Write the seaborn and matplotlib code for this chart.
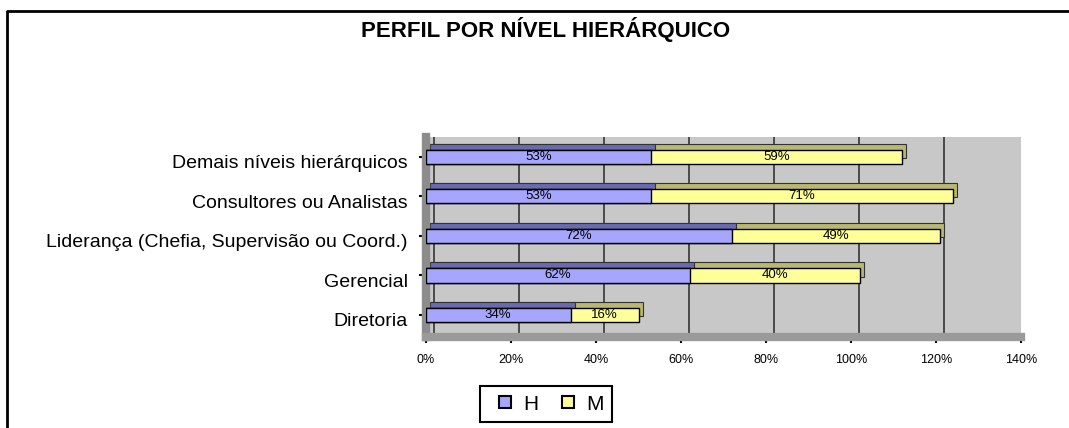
import pandas as pd
import matplotlib.pyplot as plt
import matplotlib.transforms as mtransforms
import seaborn as sns
from matplotlib.lines import Line2D
from matplotlib.ticker import PercentFormatter

# Data
categorias = ["Demais níveis hierárquicos", "Consultores ou Analistas",
              "Liderança (Chefia, Supervisão ou Coord.)", "Gerencial", "Diretoria"]
homens = [53, 53, 72, 62, 34]
mulheres = [59, 71, 49, 40, 16]

df = pd.DataFrame({"categoria": categorias, "H": homens, "M": mulheres})
df["total"] = df["H"] + df["M"]

sns.set_style("white")
plt.rcParams['font.family'] = ['Liberation Sans', 'DejaVu Sans']
plt.rcParams['text.color'] = 'black'
plt.rcParams['xtick.color'] = 'black'
plt.rcParams['ytick.color'] = 'black'

W, H = 1069, 428
fig = plt.figure(figsize=(W / 100, H / 100), dpi=100)
ax = fig.add_axes([426/W, 1 - 337/H, 595/W, 200/H])
ax.set_facecolor("#C8C8C8")

# 3D look: darker copy of the bars shifted up/right, drawn behind the front faces
depth = mtransforms.ScaledTranslation(4/100, 6/100, fig.dpi_scale_trans)
n0 = len(ax.patches)
sns.barplot(data=df, y="categoria", x="total", color="#B8B870", width=0.36,
            edgecolor="#333333", linewidth=0.8, saturation=1, ax=ax, zorder=2)
sns.barplot(data=df, y="categoria", x="H", color="#6A6AB0", width=0.36,
            edgecolor="#333333", linewidth=0.8, saturation=1, ax=ax, zorder=2)
for p in ax.patches[n0:]:
    p.set_transform(ax.transData + depth)

# front faces: total (M) first, then H on top
sns.barplot(data=df, y="categoria", x="total", color="#FFFF99", width=0.36,
            edgecolor="black", linewidth=1, saturation=1, ax=ax, zorder=3)
sns.barplot(data=df, y="categoria", x="H", color="#A6A6FF", width=0.36,
            edgecolor="black", linewidth=1, saturation=1, ax=ax, zorder=4)

# value labels
for i, row in df.iterrows():
    ax.text(row["H"] / 2, i, f"{row['H']}%", ha="center", va="center",
            fontsize=9.5, zorder=5)
    ax.text(row["H"] + row["M"] / 2, i, f"{row['M']}%", ha="center", va="center",
            fontsize=9.5, zorder=5)

ax.set_xlim(0, 140)
ax.set_ylim(4.557, -0.5)
ax.set_xticks(range(0, 141, 20))
ax.xaxis.set_major_formatter(PercentFormatter(decimals=0))
ax.grid(axis="x", color="#404040", linewidth=1.3, zorder=1)
ax.set_axisbelow(True)
back = mtransforms.ScaledTranslation(8/100, 0, fig.dpi_scale_trans)
for gl in ax.get_xgridlines():
    gl.set_transform(gl.get_transform() + back)
ax.tick_params(axis="x", labelsize=9, length=4, width=1.5, bottom=True, pad=8)
ax.tick_params(axis="y", labelsize=14, length=5, width=1.5, left=True, pad=8)
down = mtransforms.ScaledTranslation(0, -5/100, fig.dpi_scale_trans)
for lbl in ax.get_yticklabels():
    lbl.set_transform(lbl.get_transform() + down)
ax.set_xlabel("")
ax.set_ylabel("")
for s in ["top", "right"]:
    ax.spines[s].set_visible(False)
ax.spines["left"].set_color("#8C8C8C")
ax.spines["left"].set_linewidth(6)
ax.spines["bottom"].set_color("#9A9A9A")
ax.spines["bottom"].set_linewidth(6)

fig.text(546/W, 1 - 29/H, "PERFIL POR NÍVEL HIERÁRQUICO", ha="center", va="center",
         fontsize=16, fontweight="bold")

handles = [Line2D([], [], linestyle="", marker="s", markersize=9,
                  markerfacecolor="#A6A6FF", markeredgecolor="black",
                  markeredgewidth=1.5, label="H"),
           Line2D([], [], linestyle="", marker="s", markersize=9,
                  markerfacecolor="#FFFF99", markeredgecolor="black",
                  markeredgewidth=1.5, label="M")]
leg = fig.legend(handles=handles, loc="center", bbox_to_anchor=(546/W, 1 - 404/H),
                 ncol=2, fontsize=15, frameon=True, fancybox=False,
                 handlelength=1.6, handletextpad=0.1, columnspacing=0.6,
                 borderpad=0.4)
leg.get_frame().set_edgecolor("black")
leg.get_frame().set_linewidth(1.5)
leg.get_frame().set_alpha(1)

# chart border (left and top edges visible in the reference)
fig.add_artist(Line2D([7/W, 7/W, 1], [0, 1 - 11/H, 1 - 11/H],
                      transform=fig.transFigure, color="black", linewidth=2))

fig.savefig("out.png", dpi=100)
